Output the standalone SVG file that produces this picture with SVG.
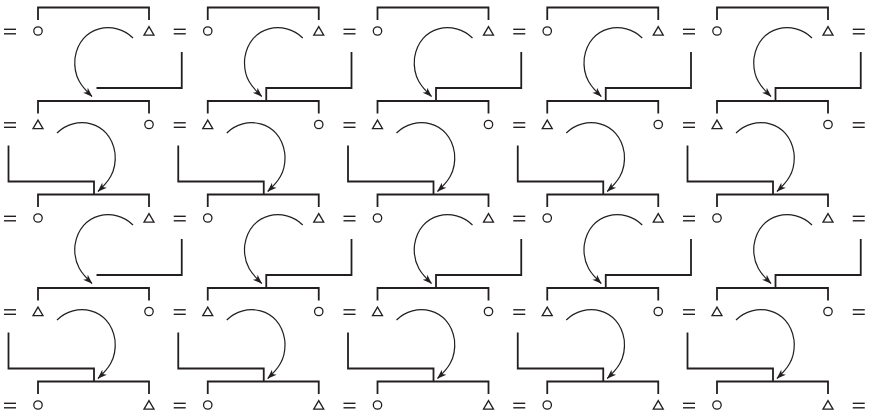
<svg xmlns="http://www.w3.org/2000/svg" xmlns:xlink="http://www.w3.org/1999/xlink" width="871" height="414" viewBox="0 0 871 414">
<style>
.bg{fill:#fff}
.sym{fill:#fff;stroke:#231f20;stroke-width:1.3}
.eq line{stroke:#231f20;stroke-width:1.4}
.ln{fill:none;stroke:#231f20;stroke-width:1.8;stroke-linejoin:miter}
.arc{fill:none;stroke:#231f20;stroke-width:1.2}
.ah{fill:#231f20}
</style>
<defs>
<marker id="ar" markerUnits="userSpaceOnUse" viewBox="-11 -5 12 10" refX="0" refY="0" markerWidth="12" markerHeight="10" orient="auto">
<path class="ah" d="M0.5,0 L-9,-3.4 L-6.5,0 L-9,3.4 Z"/>
</marker>
<circle id="circ" r="4.2"/>
<polygon id="tri" points="0,-4.4 5,4.2 -5,4.2"/>
<g id="eq" class="eq"><line x1="-6" y1="-1.7" x2="6" y2="-1.7"/><line x1="-6" y1="2.8" x2="6" y2="2.8"/></g>
<path id="arcA" class="arc" d="M133,38 C115,20 80,25 75,58 C73,78 83,88 92,96.5" marker-end="url(#ar)"/>
</defs>
<rect class="bg" x="0" y="0" width="871" height="414"/>

<g id="connectors">
<g id="sibling-brackets">
<path class="ln" d="M38,20V7.5H149V20"/>
<path class="ln" d="M207.75,20V7.5H318.75V20"/>
<path class="ln" d="M377.5,20V7.5H488.5V20"/>
<path class="ln" d="M547.25,20V7.5H658.25V20"/>
<path class="ln" d="M717,20V7.5H828V20"/>
<path class="ln" d="M38,113.5V101H149V113.5"/>
<path class="ln" d="M207.75,113.5V101H318.75V113.5"/>
<path class="ln" d="M377.5,113.5V101H488.5V113.5"/>
<path class="ln" d="M547.25,113.5V101H658.25V113.5"/>
<path class="ln" d="M717,113.5V101H828V113.5"/>
<path class="ln" d="M38,207V194.5H149V207"/>
<path class="ln" d="M207.75,207V194.5H318.75V207"/>
<path class="ln" d="M377.5,207V194.5H488.5V207"/>
<path class="ln" d="M547.25,207V194.5H658.25V207"/>
<path class="ln" d="M717,207V194.5H828V207"/>
<path class="ln" d="M38,300.5V288H149V300.5"/>
<path class="ln" d="M207.75,300.5V288H318.75V300.5"/>
<path class="ln" d="M377.5,300.5V288H488.5V300.5"/>
<path class="ln" d="M547.25,300.5V288H658.25V300.5"/>
<path class="ln" d="M717,300.5V288H828V300.5"/>
<path class="ln" d="M38,394V381.5H149V394"/>
<path class="ln" d="M207.75,394V381.5H318.75V394"/>
<path class="ln" d="M377.5,394V381.5H488.5V394"/>
<path class="ln" d="M547.25,394V381.5H658.25V394"/>
<path class="ln" d="M717,394V381.5H828V394"/>
</g>
<g id="descent-lines">
<path class="ln" d="M181.75,52V88H96.5"/>
<path class="ln" d="M351.5,52V88H266.25V101"/>
<path class="ln" d="M521.25,52V88H436V101"/>
<path class="ln" d="M691,52V88H605.75V101"/>
<path class="ln" d="M860.75,52V88H775.5V101"/>
<path class="ln" d="M8.5,145.5V181.5H94V194.5"/>
<path class="ln" d="M178.25,145.5V181.5H263.75V194.5"/>
<path class="ln" d="M348,145.5V181.5H433.5V194.5"/>
<path class="ln" d="M517.75,145.5V181.5H603.25V194.5"/>
<path class="ln" d="M687.5,145.5V181.5H773V194.5"/>
<path class="ln" d="M181.75,239V275H96.5"/>
<path class="ln" d="M351.5,239V275H266.25V288"/>
<path class="ln" d="M521.25,239V275H436V288"/>
<path class="ln" d="M691,239V275H605.75V288"/>
<path class="ln" d="M860.75,239V275H775.5V288"/>
<path class="ln" d="M8.5,332.5V368.5H94V381.5"/>
<path class="ln" d="M178.25,332.5V368.5H263.75V381.5"/>
<path class="ln" d="M348,332.5V368.5H433.5V381.5"/>
<path class="ln" d="M517.75,332.5V368.5H603.25V381.5"/>
<path class="ln" d="M687.5,332.5V368.5H773V381.5"/>
</g>
<g id="arrows">
<use href="#arcA"/>
<use href="#arcA" transform="translate(169.75,0)"/>
<use href="#arcA" transform="translate(339.5,0)"/>
<use href="#arcA" transform="translate(509.25,0)"/>
<use href="#arcA" transform="translate(679,0)"/>
<use href="#arcA" transform="translate(190,95) scale(-1,1)"/>
<use href="#arcA" transform="translate(359.75,95) scale(-1,1)"/>
<use href="#arcA" transform="translate(529.5,95) scale(-1,1)"/>
<use href="#arcA" transform="translate(699.25,95) scale(-1,1)"/>
<use href="#arcA" transform="translate(869,95) scale(-1,1)"/>
<use href="#arcA" transform="translate(0,187)"/>
<use href="#arcA" transform="translate(169.75,187)"/>
<use href="#arcA" transform="translate(339.5,187)"/>
<use href="#arcA" transform="translate(509.25,187)"/>
<use href="#arcA" transform="translate(679,187)"/>
<use href="#arcA" transform="translate(190,282) scale(-1,1)"/>
<use href="#arcA" transform="translate(359.75,282) scale(-1,1)"/>
<use href="#arcA" transform="translate(529.5,282) scale(-1,1)"/>
<use href="#arcA" transform="translate(699.25,282) scale(-1,1)"/>
<use href="#arcA" transform="translate(869,282) scale(-1,1)"/>
</g>
</g>

<g id="marriages">
<use href="#eq" x="10" y="31"/><use href="#eq" x="179.75" y="31"/><use href="#eq" x="349.5" y="31"/><use href="#eq" x="519.25" y="31"/><use href="#eq" x="689" y="31"/><use href="#eq" x="858.75" y="31"/>
<use href="#eq" x="10" y="124.5"/><use href="#eq" x="179.75" y="124.5"/><use href="#eq" x="349.5" y="124.5"/><use href="#eq" x="519.25" y="124.5"/><use href="#eq" x="689" y="124.5"/><use href="#eq" x="858.75" y="124.5"/>
<use href="#eq" x="10" y="218"/><use href="#eq" x="179.75" y="218"/><use href="#eq" x="349.5" y="218"/><use href="#eq" x="519.25" y="218"/><use href="#eq" x="689" y="218"/><use href="#eq" x="858.75" y="218"/>
<use href="#eq" x="10" y="311.5"/><use href="#eq" x="179.75" y="311.5"/><use href="#eq" x="349.5" y="311.5"/><use href="#eq" x="519.25" y="311.5"/><use href="#eq" x="689" y="311.5"/><use href="#eq" x="858.75" y="311.5"/>
<use href="#eq" x="10" y="405"/><use href="#eq" x="179.75" y="405"/><use href="#eq" x="349.5" y="405"/><use href="#eq" x="519.25" y="405"/><use href="#eq" x="689" y="405"/><use href="#eq" x="858.75" y="405"/>
</g>

<g id="r0c0f"><use class="sym" href="#circ" x="38" y="31"/></g>
<g id="r0c0m"><use class="sym" href="#tri" x="149" y="31"/></g>
<g id="r0c1f"><use class="sym" href="#circ" x="207.75" y="31"/></g>
<g id="r0c1m"><use class="sym" href="#tri" x="318.75" y="31"/></g>
<g id="r0c2f"><use class="sym" href="#circ" x="377.5" y="31"/></g>
<g id="r0c2m"><use class="sym" href="#tri" x="488.5" y="31"/></g>
<g id="r0c3f"><use class="sym" href="#circ" x="547.25" y="31"/></g>
<g id="r0c3m"><use class="sym" href="#tri" x="658.25" y="31"/></g>
<g id="r0c4f"><use class="sym" href="#circ" x="717" y="31"/></g>
<g id="r0c4m"><use class="sym" href="#tri" x="828" y="31"/></g>

<g id="r1c0m"><use class="sym" href="#tri" x="38" y="124.5"/></g>
<g id="r1c0f"><use class="sym" href="#circ" x="149" y="124.5"/></g>
<g id="r1c1m"><use class="sym" href="#tri" x="207.75" y="124.5"/></g>
<g id="r1c1f"><use class="sym" href="#circ" x="318.75" y="124.5"/></g>
<g id="r1c2m"><use class="sym" href="#tri" x="377.5" y="124.5"/></g>
<g id="r1c2f"><use class="sym" href="#circ" x="488.5" y="124.5"/></g>
<g id="r1c3m"><use class="sym" href="#tri" x="547.25" y="124.5"/></g>
<g id="r1c3f"><use class="sym" href="#circ" x="658.25" y="124.5"/></g>
<g id="r1c4m"><use class="sym" href="#tri" x="717" y="124.5"/></g>
<g id="r1c4f"><use class="sym" href="#circ" x="828" y="124.5"/></g>

<g id="r2c0f"><use class="sym" href="#circ" x="38" y="218"/></g>
<g id="r2c0m"><use class="sym" href="#tri" x="149" y="218"/></g>
<g id="r2c1f"><use class="sym" href="#circ" x="207.75" y="218"/></g>
<g id="r2c1m"><use class="sym" href="#tri" x="318.75" y="218"/></g>
<g id="r2c2f"><use class="sym" href="#circ" x="377.5" y="218"/></g>
<g id="r2c2m"><use class="sym" href="#tri" x="488.5" y="218"/></g>
<g id="r2c3f"><use class="sym" href="#circ" x="547.25" y="218"/></g>
<g id="r2c3m"><use class="sym" href="#tri" x="658.25" y="218"/></g>
<g id="r2c4f"><use class="sym" href="#circ" x="717" y="218"/></g>
<g id="r2c4m"><use class="sym" href="#tri" x="828" y="218"/></g>

<g id="r3c0m"><use class="sym" href="#tri" x="38" y="311.5"/></g>
<g id="r3c0f"><use class="sym" href="#circ" x="149" y="311.5"/></g>
<g id="r3c1m"><use class="sym" href="#tri" x="207.75" y="311.5"/></g>
<g id="r3c1f"><use class="sym" href="#circ" x="318.75" y="311.5"/></g>
<g id="r3c2m"><use class="sym" href="#tri" x="377.5" y="311.5"/></g>
<g id="r3c2f"><use class="sym" href="#circ" x="488.5" y="311.5"/></g>
<g id="r3c3m"><use class="sym" href="#tri" x="547.25" y="311.5"/></g>
<g id="r3c3f"><use class="sym" href="#circ" x="658.25" y="311.5"/></g>
<g id="r3c4m"><use class="sym" href="#tri" x="717" y="311.5"/></g>
<g id="r3c4f"><use class="sym" href="#circ" x="828" y="311.5"/></g>

<g id="r4c0f"><use class="sym" href="#circ" x="38" y="405"/></g>
<g id="r4c0m"><use class="sym" href="#tri" x="149" y="405"/></g>
<g id="r4c1f"><use class="sym" href="#circ" x="207.75" y="405"/></g>
<g id="r4c1m"><use class="sym" href="#tri" x="318.75" y="405"/></g>
<g id="r4c2f"><use class="sym" href="#circ" x="377.5" y="405"/></g>
<g id="r4c2m"><use class="sym" href="#tri" x="488.5" y="405"/></g>
<g id="r4c3f"><use class="sym" href="#circ" x="547.25" y="405"/></g>
<g id="r4c3m"><use class="sym" href="#tri" x="658.25" y="405"/></g>
<g id="r4c4f"><use class="sym" href="#circ" x="717" y="405"/></g>
<g id="r4c4m"><use class="sym" href="#tri" x="828" y="405"/></g>
</svg>
